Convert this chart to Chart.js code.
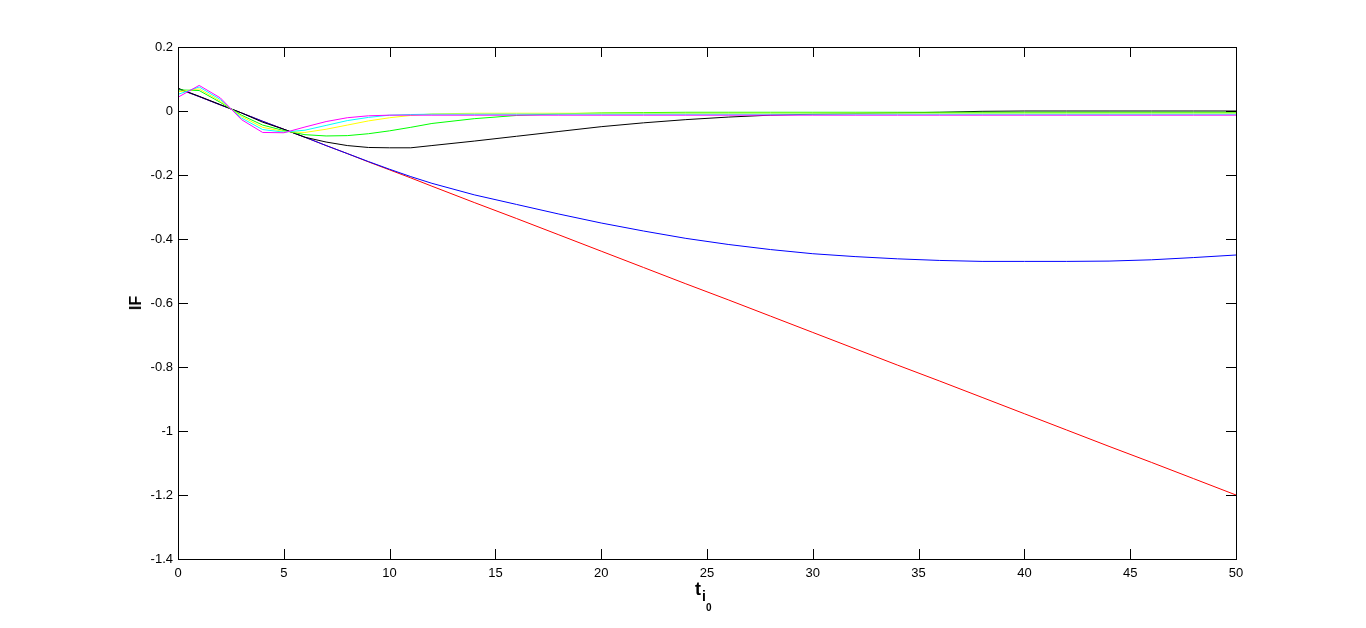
<!DOCTYPE html>
<html>
<head>
<meta charset="utf-8">
<title>IF vs t</title>
<script src="https://cdn.jsdelivr.net/npm/chart.js@4.4.1/dist/chart.umd.min.js"></script>
<style>
  html, body { margin: 0; padding: 0; background: #fff; }
  #wrap { position: relative; width: 1366px; height: 628px; }
  #ifChart { position: absolute; left: 0; top: 0; }
  .axis-title {
    position: absolute;
    font-family: 'Liberation Sans', Arial, sans-serif;
    font-weight: bold;
    color: #000;
    white-space: nowrap;
  }
  #xTitle { left: 695px; top: 579px; font-size: 18px; line-height: 21px; }
  #xTitle .sub1 { font-size: 14px; position: relative; top: 6px; margin-left: 1px; }
  #xTitle .sub2 { font-size: 10px; position: relative; top: 10px; }
  #yTitle { left: 136px; top: 303px; font-size: 16px; transform: translate(-50%, -50%) rotate(-90deg); }
</style>
</head>
<body>
<div id="wrap">
  <canvas id="ifChart" width="1366" height="628"></canvas>
  <div id="xTitle" class="axis-title">t<span class="sub1">i<span class="sub2">0</span></span></div>
  <div id="yTitle" class="axis-title">IF</div>
</div>
<script>
// Datos
const tValues = [0, 1, 2, 3, 4, 5, 6, 7, 8, 9, 10, 11, 12, 14, 16, 18, 20, 22, 24, 26, 28, 30, 32, 34, 36, 38, 40, 42, 44, 46, 48, 50];

const ifRed = [0.070, 0.045, 0.019, -0.006, -0.032, -0.057, -0.082, -0.108, -0.133, -0.159, -0.184, -0.209, -0.235, -0.286, -0.336, -0.387, -0.438, -0.489, -0.540, -0.590, -0.641, -0.692, -0.743, -0.794, -0.844, -0.895, -0.946, -0.997, -1.048, -1.098, -1.149, -1.200];
const ifBlue = [0.070, 0.045, 0.019, -0.006, -0.032, -0.057, -0.082, -0.108, -0.133, -0.158, -0.182, -0.205, -0.226, -0.262, -0.292, -0.322, -0.350, -0.375, -0.398, -0.417, -0.433, -0.446, -0.455, -0.462, -0.467, -0.470, -0.470, -0.470, -0.469, -0.465, -0.458, -0.450];
const ifBlack = [0.071, 0.046, 0.020, -0.006, -0.035, -0.057, -0.082, -0.097, -0.108, -0.114, -0.115, -0.115, -0.108, -0.094, -0.079, -0.064, -0.049, -0.037, -0.027, -0.019, -0.013, -0.010, -0.008, -0.006, -0.004, -0.001, 0.000, 0.000, 0.000, 0.000, 0.000, 0.000];
const ifGreen = [0.066, 0.064, 0.027, -0.013, -0.044, -0.061, -0.074, -0.078, -0.077, -0.071, -0.062, -0.051, -0.039, -0.024, -0.014, -0.009, -0.006, -0.005, -0.004, -0.004, -0.004, -0.004, -0.004, -0.004, -0.004, -0.004, -0.004, -0.004, -0.004, -0.004, -0.004, -0.004];
const ifYellow = [0.060, 0.069, 0.031, -0.017, -0.051, -0.064, -0.067, -0.057, -0.044, -0.031, -0.021, -0.014, -0.009, -0.007, -0.007, -0.007, -0.007, -0.007, -0.007, -0.007, -0.007, -0.007, -0.007, -0.007, -0.007, -0.007, -0.007, -0.007, -0.007, -0.007, -0.007, -0.007];
const ifCyan = [0.052, 0.075, 0.036, -0.022, -0.058, -0.066, -0.060, -0.045, -0.030, -0.020, -0.013, -0.011, -0.010, -0.010, -0.010, -0.010, -0.010, -0.010, -0.010, -0.010, -0.010, -0.010, -0.010, -0.010, -0.010, -0.010, -0.010, -0.010, -0.010, -0.010, -0.010, -0.010];
const ifMagenta = [0.043, 0.080, 0.041, -0.027, -0.067, -0.068, -0.050, -0.033, -0.021, -0.015, -0.013, -0.013, -0.013, -0.013, -0.013, -0.013, -0.013, -0.013, -0.013, -0.013, -0.013, -0.013, -0.013, -0.013, -0.013, -0.013, -0.013, -0.013, -0.013, -0.013, -0.013, -0.013];

const xTicks = [0, 5, 10, 15, 20, 25, 30, 35, 40, 45, 50];
const xTickLabels = ['0', '5', '10', '15', '20', '25', '30', '35', '40', '45', '50'];
const yTicks = [-1.4, -1.2, -1, -0.8, -0.6, -0.4, -0.2, 0, 0.2];
const yTickLabels = ['-1.4', '-1.2', '-1', '-0.8', '-0.6', '-0.4', '-0.2', '0', '0.2'];

/**
 * Convierte una serie en puntos {x, y}
 */
function toPoints(values) {
  return tValues.map((t, i) => ({ x: t, y: values[i] }));
}

function makeDataset(values, color) {
  return {
    data: toPoints(values),
    borderColor: color,
    borderWidth: 1,
    pointRadius: 0,
    tension: 0,
    fill: false,
    clip: false
  };
}

// Marcas hacia dentro y caja del eje (estilo MATLAB)
const boxTicks = {
  id: 'boxTicks',
  afterDatasetsDraw(chart) {
    const { ctx, chartArea: a, scales } = chart;
    const len = 10;
    ctx.save();
    ctx.strokeStyle = '#000';
    ctx.lineWidth = 1;
    ctx.beginPath();
    xTicks.forEach(v => {
      const px = Math.round(scales.x.getPixelForValue(v)) + 0.5;
      ctx.moveTo(px, a.bottom);
      ctx.lineTo(px, a.bottom - len);
      ctx.moveTo(px, a.top);
      ctx.lineTo(px, a.top + len);
    });
    yTicks.forEach(v => {
      const py = Math.round(scales.y.getPixelForValue(v)) + 0.5;
      ctx.moveTo(a.left, py);
      ctx.lineTo(a.left + len, py);
      ctx.moveTo(a.right, py);
      ctx.lineTo(a.right - len, py);
    });
    ctx.stroke();
    ctx.strokeRect(a.left + 0.5, a.top + 0.5, a.right - a.left, a.bottom - a.top);
    ctx.restore();
  }
};

function initIFChart() {
  const ctx = document.getElementById('ifChart');
  if (!ctx) return;

  new Chart(ctx, {
    type: 'line',
    data: {
      datasets: [
        makeDataset(ifMagenta, '#ff00ff'),
        makeDataset(ifCyan, '#00ffff'),
        makeDataset(ifYellow, '#ffff00'),
        makeDataset(ifGreen, '#00ff00'),
        makeDataset(ifBlack, '#000000'),
        makeDataset(ifBlue, '#0000ff'),
        makeDataset(ifRed, '#ff0000')
      ]
    },
    options: {
      responsive: false,
      animation: false,
      devicePixelRatio: 1,
      layout: {
        padding: { left: 0, right: 130, top: 47, bottom: 0 }
      },
      plugins: {
        legend: { display: false },
        tooltip: { enabled: false }
      },
      scales: {
        x: {
          type: 'linear',
          min: 0,
          max: 50,
          grid: { display: false, drawTicks: false, tickLength: 0 },
          border: { display: false },
          afterFit: scale => { scale.height = 69; },
          afterBuildTicks: scale => { scale.ticks = xTicks.map(v => ({ value: v })); },
          ticks: {
            autoSkip: false,
            maxRotation: 0,
            padding: 7,
            font: { size: 13 },
            callback: value => xTickLabels[xTicks.indexOf(value)]
          }
        },
        y: {
          type: 'linear',
          min: -1.4,
          max: 0.2,
          grid: { display: false, drawTicks: false, tickLength: 0 },
          border: { display: false },
          afterFit: scale => { scale.width = 178; },
          afterBuildTicks: scale => { scale.ticks = yTicks.map(v => ({ value: v })); },
          ticks: {
            autoSkip: false,
            padding: 5,
            font: { size: 13 },
            callback: value => yTickLabels[yTicks.indexOf(value)]
          }
        }
      }
    },
    plugins: [boxTicks]
  });
}

function initAllCharts() {
  if (typeof Chart === 'undefined') {
    console.error('Chart.js no está cargado');
    return;
  }
  Chart.defaults.font.family = "'Liberation Sans', Arial, sans-serif";
  Chart.defaults.color = '#000';
  initIFChart();
}

if (document.readyState === 'loading') {
  document.addEventListener('DOMContentLoaded', initAllCharts);
} else {
  initAllCharts();
}
</script>
</body>
</html>
